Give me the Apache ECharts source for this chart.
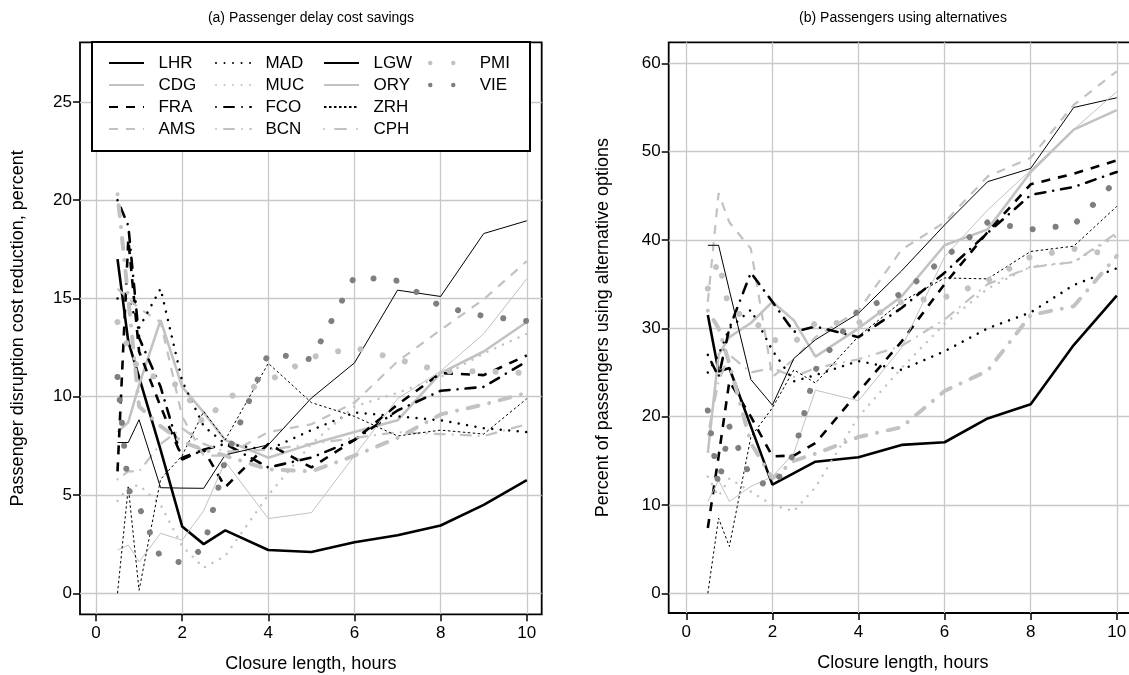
<!DOCTYPE html>
<html><head><meta charset="utf-8">
<script src="https://cdn.jsdelivr.net/npm/echarts@6/dist/echarts.min.js"></script>
<style>html,body{margin:0;padding:0;background:#fff}#c{width:1129px;height:675px}</style>
</head><body><div id="c"></div>
<script>
// ---------- DATA ----------
const xHours = [0.5, 0.75, 1, 1.5, 2, 2.5, 3, 4, 5, 6, 7, 8, 9, 10];
const airports = ['LHR','CDG','FRA','AMS','MAD','MUC','FCO','BCN','LGW','ORY','ZRH','CPH','PMI','VIE'];
const xTicks = [0, 2, 4, 6, 8, 10];
const yTicksA = [0, 5, 10, 15, 20, 25];
const yTicksB = [0, 10, 20, 30, 40, 50, 60];

// (a) passenger disruption cost reduction, percent
const LHR_a = [17.0, 12.8, 11.0, 7.3, 3.4, 2.5, 3.2, 2.2, 2.1, 2.6, 2.95, 3.45, 4.5, 5.75];
const CDG_a = [8.2, 8.7, 10.6, 13.9, 10.5, 9.2, 7.8, 6.9, 7.6, 8.2, 8.8, 11.2, 12.3, 13.8];
const FRA_a = [6.2, 18.0, 12.3, 9.5, 6.9, 7.3, 5.4, 7.6, 6.4, 7.8, 9.6, 11.2, 11.1, 12.1];
const AMS_a = [15.5, 15.0, 14.5, 13.8, 9.0, 7.0, 7.0, 8.2, 8.6, 9.7, 11.8, 13.4, 14.95, 16.9];
const MAD_a = [15.0, 15.0, 13.5, 15.5, 10.8, 8.5, 7.6, 7.3, 8.3, 9.2, 9.0, 8.8, 8.4, 8.2];
const MUC_a = [4.7, 5.4, 5.5, 4.5, 2.4, 1.3, 1.9, 5.0, 7.6, 9.5, 10.2, 11.0, 12.2, 13.2];
const FCO_a = [20.0, 18.7, 13.0, 10.5, 6.8, 7.3, 7.6, 6.4, 6.9, 7.8, 9.3, 10.3, 10.5, 11.8];
const BCN_a = [5.8, 6.2, 6.2, 7.6, 8.4, 7.6, 7.2, 7.3, 7.6, 7.9, 8.2, 8.1, 8.0, 8.6];
const LGW_a = [7.67, 7.67, 8.83, 5.37, 5.35, 5.34, 7.04, 7.55, 9.93, 11.72, 15.42, 15.1, 18.3, 18.95];
const ORY_a = [2.2, 2.45, 1.6, 3.05, 2.7, 4.2, 6.7, 3.8, 4.1, 7.0, 9.9, 11.3, 13.2, 16.0];
const ZRH_a = [0, 5.4, 0.15, 5.8, 7.0, 9.25, 7.8, 11.7, 9.7, 9.0, 8.0, 8.3, 8.1, 9.9];
const CPH_a = [20.3, 15.0, 9.5, 8.5, 7.7, 7.3, 7.0, 6.3, 6.2, 7.0, 7.9, 9.1, 9.6, 10.2];
const PMI_a = [13.8, 12.5, 11.3, 10.9, 10.5, 8.6, 9.9, 10.8, 12.0, 12.5, 11.9, 11.3, 11.3, 11.2];
const VIE_a = [11.0, 5.3, 4.4, 1.8, 1.55, 2.3, 6.8, 12.2, 11.9, 16.1, 15.9, 14.6, 14.1, 13.85];

// (b) percent of passengers using alternative options
const LHR_b = [31.5, 25.1, 25.5, 18.9, 12.3, 13.6, 14.9, 15.4, 16.8, 17.1, 19.8, 21.4, 28.1, 33.7];
const CDG_b = [15.9, 27.0, 29.0, 30.6, 33.0, 30.9, 26.8, 30.0, 33.6, 39.4, 41.2, 47.7, 52.5, 54.7];
const FRA_b = [7.4, 15.5, 24.0, 20.0, 15.5, 15.6, 17.0, 22.8, 28.5, 35.0, 40.9, 46.3, 47.5, 49.0];
const AMS_b = [33.0, 45.3, 42.0, 39.0, 24.5, 26.5, 29.0, 32.0, 38.9, 42.0, 47.2, 49.3, 55.3, 59.1];
const MAD_b = [25.0, 27.0, 30.0, 32.1, 27.5, 24.0, 24.7, 26.3, 25.3, 27.4, 30.0, 31.8, 34.9, 36.8];
const MUC_b = [13.2, 11.0, 13.0, 11.5, 10.0, 9.3, 12.0, 20.0, 25.5, 30.5, 34.5, 37.0, 37.5, 40.5];
const FCO_b = [27.0, 24.5, 30.0, 36.3, 33.0, 29.6, 30.2, 29.0, 32.3, 36.3, 40.8, 45.1, 46.0, 47.7];
const BCN_b = [18.0, 24.0, 27.0, 25.0, 25.5, 24.5, 25.5, 26.5, 28.0, 31.0, 35.0, 36.9, 37.5, 40.8];
const LGW_b = [39.4, 39.4, 34.3, 24.2, 21.3, 26.6, 28.7, 31.7, 36.5, 41.7, 46.6, 48.1, 55.0, 56.1];
const ORY_b = [10.4, 12.8, 10.4, 12.1, 13.2, 15.9, 23.0, 21.8, 27.8, 38.1, 43.4, 47.9, 52.5, 56.8];
const ZRH_b = [0, 8.5, 5.3, 17.7, 21.0, 25.3, 23.8, 29.1, 33.0, 35.7, 35.6, 38.7, 39.3, 43.8];
const CPH_b = [32.0, 30.0, 26.0, 17.0, 13.0, 15.0, 15.8, 17.7, 18.8, 22.9, 25.2, 31.5, 32.5, 38.2];
const PMI_b = [34.5, 37.7, 32.0, 31.2, 28.7, 28.4, 30.6, 30.6, 33.0, 33.5, 35.4, 38.1, 39.0, 38.3];
const VIE_b = [20.7, 12.1, 18.9, 13.0, 12.0, 15.8, 25.3, 32.1, 33.9, 38.0, 42.0, 41.2, 41.7, 46.8];

// ---------- STYLE ----------
const valuesA = {LHR:LHR_a,CDG:CDG_a,FRA:FRA_a,AMS:AMS_a,MAD:MAD_a,MUC:MUC_a,FCO:FCO_a,BCN:BCN_a,LGW:LGW_a,ORY:ORY_a,ZRH:ZRH_a,CPH:CPH_a,PMI:PMI_a,VIE:VIE_a};
const valuesB = {LHR:LHR_b,CDG:CDG_b,FRA:FRA_b,AMS:AMS_b,MAD:MAD_b,MUC:MUC_b,FCO:FCO_b,BCN:BCN_b,LGW:LGW_b,ORY:ORY_b,ZRH:ZRH_b,CPH:CPH_b,PMI:PMI_b,VIE:VIE_b};
const BLACK = '#000000', LIGHT = '#c2c2c2', DARK = '#7f7f7f';
const styles = {
  LHR:{color:BLACK,width:2.6,type:'solid'},
  CDG:{color:LIGHT,width:2.6,type:'solid'},
  FRA:{color:BLACK,width:2.6,type:[9,8]},
  AMS:{color:LIGHT,width:2.2,type:[9,8]},
  MAD:{color:BLACK,width:2.5,type:[0.01,8.5],cap:'round'},
  MUC:{color:LIGHT,width:2.5,type:[0.01,8.5],cap:'round'},
  FCO:{color:BLACK,width:2.6,type:[0.01,8,10,8],cap:'round'},
  BCN:{color:LIGHT,width:2.2,type:[0.01,8,10,8],cap:'round'},
  LGW:{color:BLACK,width:1,type:'solid'},
  ORY:{color:LIGHT,width:1,type:'solid'},
  ZRH:{color:BLACK,width:1,type:[2.5,2.5]},
  CPH:{color:LIGHT,width:4,type:[0.01,11,11,11],cap:'round'},
  PMI:{color:LIGHT,width:6,type:[0.01,23],cap:'round'},
  VIE:{color:DARK,width:6,type:[0.01,23],cap:'round'}
};
const FONT = 'Liberation Sans';

function mkSeries(vals, gi) {
  return airports.map(name => ({
    name, type:'line', xAxisIndex:gi, yAxisIndex:gi,
    data: xHours.map((x,i)=>[x, vals[name][i]]),
    symbol:'none', showSymbol:false, silent:true, animation:false,
    lineStyle: Object.assign({}, styles[name]),
    itemStyle:{color:styles[name].color},
    z: 2
  }));
}

function xAxisCfg(gi, min, max) {
  return {
    gridIndex:gi, type:'value', min, max,
    name:'Closure length, hours', nameLocation:'middle', nameGap:41,
    nameTextStyle:{fontSize:18, color:'#000', fontFamily:FONT},
    axisLine:{show:false, onZero:false},
    axisTick:{show:true, inside:false, length:7, customValues:xTicks, lineStyle:{color:'#000', width:1.5}},
    axisLabel:{customValues:xTicks, fontSize:17, color:'#000', fontFamily:FONT, margin:11},
    splitLine:{show:true, customValues:xTicks, lineStyle:{color:'#c8c8c8', width:1.3}}
  };
}
function yAxisCfg(gi, min, max, ticks, name, gap) {
  return {
    gridIndex:gi, type:'value', min, max,
    name, nameLocation:'middle', nameGap:gap,
    nameTextStyle:{fontSize:18, color:'#000', fontFamily:FONT},
    axisLine:{show:false, onZero:false},
    axisTick:{show:true, inside:false, length:7, customValues:ticks, lineStyle:{color:'#000', width:1.5}},
    axisLabel:{customValues:ticks, fontSize:17, color:'#000', fontFamily:FONT, margin:8},
    splitLine:{show:true, customValues:ticks, lineStyle:{color:'#c8c8c8', width:1.3}}
  };
}

const legendCols = [['LHR','CDG','FRA','AMS'],['MAD','MUC','FCO','BCN'],['LGW','ORY','ZRH','CPH'],['PMI','VIE']];
const legendLeft = [108, 215, 323, 428];
const legends = legendCols.map((col, k) => ({
  orient:'vertical', left:legendLeft[k], top:52, padding:0, itemGap:0,
  itemWidth:35, itemHeight:14, selectedMode:false, z:10,
  itemStyle:{opacity:0},
  data: col.map(n => (n==='PMI'||n==='VIE') ? {name:n, lineStyle:{width:4.5}} : n),
  formatter: n => '  ' + n,
  textStyle:{fontSize:17, color:'#000', fontFamily:FONT, lineHeight:22}
}));

const chart = echarts.init(document.getElementById('c'), null, {renderer:'canvas'});
chart.setOption({
  animation:false,
  backgroundColor:'#fff',
  grid:[
    {left:80, top:42.3, width:461.7, height:572, show:true, borderColor:'#000', borderWidth:1.8, backgroundColor:'transparent', containLabel:false, outerBoundsMode:'none'},
    {left:668.7, top:42.3, width:468.3, height:570.7, show:true, borderColor:'#000', borderWidth:1.8, backgroundColor:'transparent', containLabel:false, outerBoundsMode:'none'}
  ],
  xAxis:[ xAxisCfg(0, -0.371, 10.346), xAxisCfg(1, -0.409, 10.47) ],
  yAxis:[
    yAxisCfg(0, -1.07, 28.03, yTicksA, 'Passenger disruption cost reduction, percent', 53),
    yAxisCfg(1, -2.23, 62.38, yTicksB, 'Percent of passengers using alternative options', 57)
  ],
  legend: legends,
  graphic:[
    {type:'rect', z:8, shape:{x:92, y:42, width:438, height:109}, style:{fill:'#fff', stroke:'#000', lineWidth:2}},
    {type:'text', z:9, x:311, y:18, style:{text:'(a) Passenger delay cost savings', font:'14px "Liberation Sans"', fill:'#000', textAlign:'center', textVerticalAlign:'middle'}},
    {type:'text', z:9, x:903, y:18, style:{text:'(b) Passengers using alternatives', font:'14px "Liberation Sans"', fill:'#000', textAlign:'center', textVerticalAlign:'middle'}}
  ],
  series: mkSeries(valuesA, 0).concat(mkSeries(valuesB, 1))
});
</script>
</body></html>
